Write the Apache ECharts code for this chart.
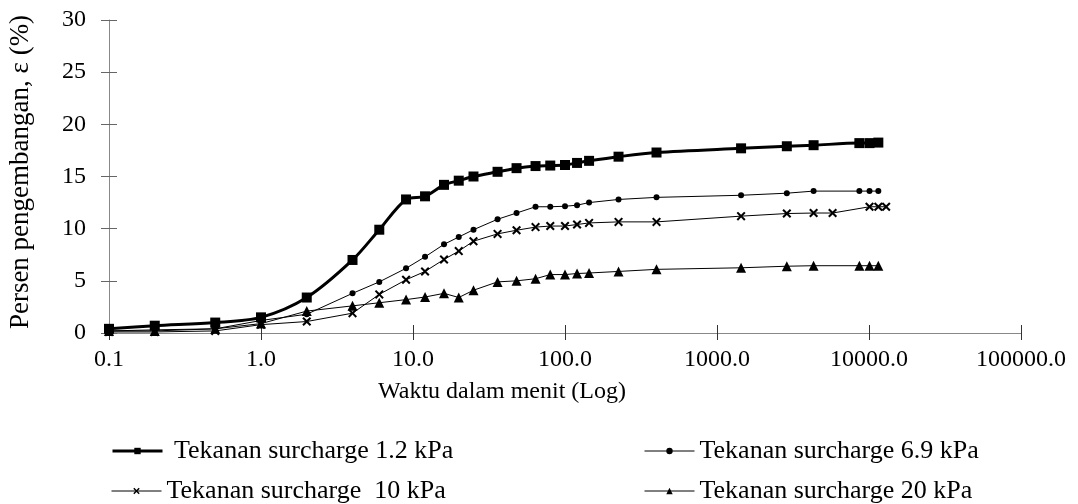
<!DOCTYPE html>
<html>
<head>
<meta charset="utf-8">
<script src="https://cdn.jsdelivr.net/npm/echarts@6/dist/echarts.min.js"></script>
<style>
html,body{margin:0;padding:0;background:#fff;}
#chart{width:1078px;height:504px;}
</style>
</head>
<body>
<div id="chart"></div>
<script>
// ---- data ----
var seriesNames = ['Tekanan surcharge 1.2 kPa', 'Tekanan surcharge 6.9 kPa', 'Tekanan surcharge  10 kPa', 'Tekanan surcharge 20 kPa'];
var timeMain = [0.1, 0.2, 0.5, 1, 2, 4, 6, 9, 12, 16, 20, 25, 36, 48, 64, 80, 100, 120, 144, 225, 400, 1440, 2880, 4320, 8640, 10080, 11520];
var time10 = [0.1, 0.2, 0.5, 1, 2, 4, 6, 9, 12, 16, 20, 25, 36, 48, 64, 80, 100, 120, 144, 225, 400, 1440, 2880, 4320, 5760, 10080, 11520, 12960];
var val12 = [0.4, 0.7, 1.0, 1.5, 3.4, 7.0, 9.9, 12.8, 13.1, 14.2, 14.6, 15.0, 15.45, 15.8, 16.0, 16.05, 16.1, 16.3, 16.5, 16.9, 17.3, 17.7, 17.9, 18.0, 18.2, 18.2, 18.25];
var val69 = [0.2, 0.3, 0.4, 1.2, 1.8, 3.8, 4.9, 6.2, 7.3, 8.5, 9.2, 9.9, 10.9, 11.5, 12.1, 12.1, 12.15, 12.25, 12.5, 12.8, 13.0, 13.2, 13.4, 13.6, 13.6, 13.6, 13.6];
var val10 = [0.1, 0.1, 0.2, 0.8, 1.1, 1.9, 3.7, 5.1, 5.9, 7.05, 7.85, 8.8, 9.5, 9.85, 10.15, 10.25, 10.25, 10.4, 10.55, 10.65, 10.65, 11.2, 11.45, 11.5, 11.5, 12.1, 12.1, 12.1];
var val20 = [0.2, 0.2, 0.4, 0.9, 2.1, 2.6, 2.9, 3.2, 3.45, 3.8, 3.4, 4.1, 4.9, 5.0, 5.2, 5.6, 5.6, 5.7, 5.75, 5.9, 6.1, 6.25, 6.4, 6.45, 6.45, 6.45, 6.45];
var yMin = 0, yMax = 30, yStep = 5;
var xMin = 0.1, xMax = 100000;
var xAxisTitle = 'Waktu dalam menit (Log)';
var yAxisTitle = 'Persen pengembangan, \u03b5 (%)';

function pairs(xs, ys) { return xs.map(function (x, i) { return [x, ys[i]]; }); }

var FONT = '"Liberation Serif", "Times New Roman", serif';
var FS = 24;
var crossPath = 'path://M0,1.6L1.6,0L5,3.4L8.4,0L10,1.6L6.6,5L10,8.4L8.4,10L5,6.6L1.6,10L0,8.4L3.4,5Z';

var chart = echarts.init(document.getElementById('chart'), null, { renderer: 'canvas' });

function xAx(inside, showLabel) {
  return {
    type: 'log', logBase: 10, min: xMin, max: xMax, position: 'bottom',
    axisLine: { show: !inside, lineStyle: { color: '#888', width: 1 } },
    axisTick: { show: true, inside: inside, length: inside ? 8 : 7, lineStyle: { color: '#333', width: 1 } },
    axisLabel: { show: showLabel, margin: 15, color: '#000', fontFamily: FONT, fontSize: FS,
      formatter: function (v) { return Number(v).toFixed(1); } },
    splitLine: { show: false }, minorTick: { show: false }
  };
}
function yAx(inside, showLabel) {
  return {
    type: 'value', min: yMin, max: yMax, interval: yStep, position: 'left',
    axisLine: { show: !inside, lineStyle: { color: '#888', width: 1 } },
    axisTick: { show: true, inside: inside, length: 8, lineStyle: { color: '#666', width: 1 } },
    axisLabel: { show: showLabel, margin: 23, color: '#000', fontFamily: FONT, fontSize: FS },
    splitLine: { show: false }
  };
}

function legendAt(name, left, top, extra, lw) {
  return {
    data: [name], left: left, top: top, padding: 0, orient: 'horizontal',
    itemWidth: 50, itemHeight: 8,
    lineStyle: { width: lw },
    textStyle: { color: '#000', fontFamily: FONT, fontSize: 26 },
    formatter: extra ? function (n) { return ' ' + n; } : undefined,
    selectedMode: false
  };
}

var option = {
  animation: false,
  backgroundColor: '#fff',
  grid: { left: 109, right: 57, top: 20, bottom: 171, containLabel: false },
  xAxis: [xAx(false, true), xAx(true, false)],
  yAxis: [yAx(false, true), yAx(true, false)],
  legend: [
    legendAt(seriesNames[0], 111, 438, true, 3),
    legendAt(seriesNames[1], 644, 438, false, 1),
    legendAt(seriesNames[2], 111, 478, false, 1),
    legendAt(seriesNames[3], 644, 478, false, 1)
  ],
  graphic: [
    { type: 'text', x: 502, y: 392, style: { text: xAxisTitle, font: FS + 'px ' + FONT, fill: '#000', align: 'center', verticalAlign: 'middle' } },
    { type: 'text', x: 21, y: 172, rotation: Math.PI / 2, style: { text: yAxisTitle, font: '27px ' + FONT, fill: '#000', align: 'center', verticalAlign: 'middle' } }
  ],
  series: [
    { name: seriesNames[3], type: 'line', data: pairs(timeMain, val20), symbol: 'triangle', symbolSize: 10,
      lineStyle: { color: '#000', width: 1 }, itemStyle: { color: '#000' } },
    { name: seriesNames[2], type: 'line', data: pairs(time10, val10), symbol: crossPath, symbolSize: 9,
      lineStyle: { color: '#000', width: 1 }, itemStyle: { color: '#000' } },
    { name: seriesNames[1], type: 'line', data: pairs(timeMain, val69), symbol: 'circle', symbolSize: 6,
      lineStyle: { color: '#000', width: 1 }, itemStyle: { color: '#000' } },
    { name: seriesNames[0], type: 'line', data: pairs(timeMain, val12), symbol: 'rect', symbolSize: 10, smooth: 0.3,
      lineStyle: { color: '#000', width: 3 }, itemStyle: { color: '#000' } }
  ]
};
chart.setOption(option);
</script>
</body>
</html>
